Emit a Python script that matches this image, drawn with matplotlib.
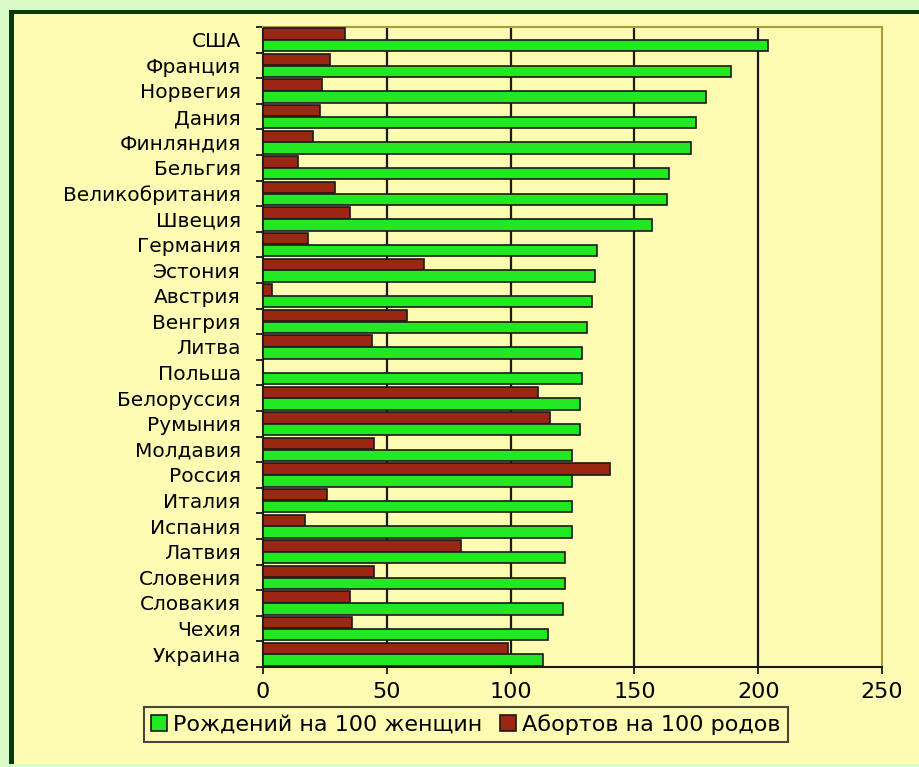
import matplotlib
matplotlib.use("Agg")
from matplotlib import pyplot as plt
from matplotlib.patches import Rectangle
import numpy as np

# countries, top to bottom as in the picture
countries = ["США", "Франция", "Норвегия", "Дания", "Финляндия", "Бельгия",
             "Великобритания", "Швеция", "Германия", "Эстония", "Австрия",
             "Венгрия", "Литва", "Польша", "Белоруссия", "Румыния", "Молдавия",
             "Россия", "Италия", "Испания", "Латвия", "Словения", "Словакия",
             "Чехия", "Украина"]

# births per 100 women
births = [204, 189, 179, 175, 173, 164, 163, 157, 135, 134, 133, 131, 129,
          129, 128, 128, 125, 125, 125, 125, 122, 122, 121, 115, 113]

# abortions per 100 births
abortions = [33, 27, 24, 23, 20, 14, 29, 35, 18, 65, 3.5, 58, 44, 0, 111,
             116, 45, 140, 26, 17, 80, 45, 35, 36, 99]

xticks = [0, 50, 100, 150, 200, 250]
label_births = "Рождений на 100 женщин"
label_abort = "Абортов на 100 родов"

yellow = "#fefbb2"
green = "#22e822"
brown = "#9b2612"
plt.rcParams["font.family"] = ["DejaVu Sans"]

fig = plt.figure(figsize=(9.2, 7.67), dpi=100, facecolor="#d8fcc8")

# yellow panel with dark green edge on top and left (behind the axes)
W, H = 920.0, 767.0
fig.patches.append(Rectangle((9 / W, 3 / H), 1.0, 1 - 13 / H, transform=fig.transFigure,
                             facecolor=yellow, edgecolor="none", zorder=-10))
fig.patches.append(Rectangle((9 / W, 1 - 14 / H), 1.0, 4 / H, transform=fig.transFigure,
                             facecolor="#0a3a0a", edgecolor="none", zorder=-9))
fig.patches.append(Rectangle((9 / W, 3 / H), 5 / W, 1 - 13 / H, transform=fig.transFigure,
                             facecolor="#0a3a0a", edgecolor="none", zorder=-9))

ax = fig.add_axes([263 / W, 1 - 667 / H, (882 - 263) / W, (667 - 27) / H])
ax.set_zorder(1)
ax.set_facecolor(yellow)

y = np.arange(len(countries))
h = 0.44
ax.barh(y - 0.23, abortions, height=h, color=brown, edgecolor="#1a1a1a",
        linewidth=1.2, label=label_abort, zorder=3)
ax.barh(y + 0.23, births, height=h, color=green, edgecolor="#1a1a1a",
        linewidth=1.2, label=label_births, zorder=3)

ax.set_xlim(0, 250)
ax.set_ylim(len(countries) - 0.5, -0.5)

ax.set_xticks(xticks)
ax.set_xticklabels([str(v) for v in xticks], fontsize=16)
ax.tick_params(axis="x", length=5, width=1.3, pad=6, color="#1a1a1a")

ax.set_yticks(y)
ax.set_yticklabels(countries, fontsize=14.5)
ax.set_yticks(np.arange(len(countries) + 1) - 0.5, minor=True)
ax.tick_params(axis="y", which="major", length=0, pad=16)
ax.tick_params(axis="y", which="minor", length=5, width=1.3, color="#1a1a1a")

for v in xticks[1:-1]:
    ax.axvline(v, color="#1a1a1a", linewidth=1.6, zorder=1)

for s in ["left", "bottom"]:
    ax.spines[s].set_color("#1a1a1a")
    ax.spines[s].set_linewidth(1.5)
for s in ["top", "right"]:
    ax.spines[s].set_color("#a89c3c")
    ax.spines[s].set_linewidth(1.5)

handles, labels = ax.get_legend_handles_labels()
leg = fig.legend(handles[::-1], labels[::-1], loc="center",
                 bbox_to_anchor=(466 / W, 1 - 724.5 / H), ncol=2, fontsize=16,
                 frameon=True, fancybox=False, facecolor=yellow, edgecolor="#1a1a1a",
                 handlelength=0.7, handleheight=0.7, handletextpad=0.3,
                 columnspacing=0.8, borderpad=0.3, borderaxespad=0)
leg.get_frame().set_linewidth(1.5)

fig.savefig("out.png", dpi=100, facecolor=fig.get_facecolor())
